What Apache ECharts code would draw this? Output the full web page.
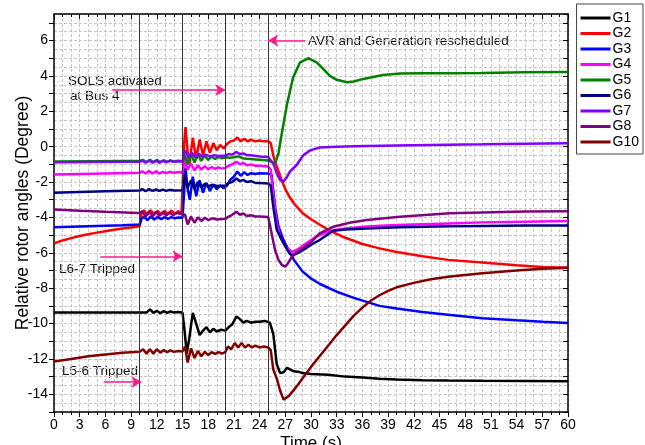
<!DOCTYPE html>
<html>
<head>
<meta charset="utf-8">
<script src="https://cdn.jsdelivr.net/npm/echarts@6/dist/echarts.min.js"></script>
<style>
html, body { margin: 0; padding: 0; background: #fff; }
#chart { width: 645px; height: 445px; }
</style>
</head>
<body>
<div id="chart"></div>
<script>
// rotor angle curves, [time (s), angle (deg)]
const g1 = [[0,-9.38],[5,-9.38],[10,-9.38],[10.8,-9.38],[11.2,-9.2],[11.6,-9.4],[12,-9.28],[12.4,-9.42],[12.8,-9.3],[13.2,-9.4],[13.6,-9.32],[14,-9.38],[14.5,-9.35],[15,-9.38],[15.2,-10.2],[15.5,-11.7],[15.8,-10.8],[16.2,-9.4],[16.6,-10.0],[17,-10.65],[17.4,-10.4],[17.8,-10.2],[18.2,-10.5],[18.6,-10.3],[19,-10.45],[19.5,-10.35],[20,-10.4],[20.4,-10.2],[20.8,-10.05],[21.3,-9.6],[21.7,-9.75],[22.1,-9.95],[22.5,-9.85],[23,-9.95],[23.5,-9.9],[24,-9.9],[24.6,-9.85],[25.2,-9.95],[25.6,-10.6],[26,-12.3],[26.4,-12.8],[26.8,-12.75],[27.2,-12.5],[27.6,-12.6],[28,-12.7],[28.5,-12.72],[29,-12.8],[30,-12.85],[32,-12.9],[34,-13.0],[36,-13.05],[38,-13.12],[40,-13.16],[43,-13.2],[46,-13.22],[50,-13.24],[55,-13.25],[60,-13.26]];
const g2 = [[0,-5.47],[1,-5.3],[2,-5.17],[3,-5.05],[4,-4.95],[5,-4.86],[6,-4.78],[7,-4.7],[8,-4.63],[9,-4.57],[10,-4.5],[10.2,-3.8],[10.5,-3.6],[10.9,-3.85],[11.3,-3.6],[11.7,-3.85],[12.1,-3.62],[12.5,-3.85],[12.9,-3.62],[13.3,-3.82],[13.7,-3.62],[14.1,-3.8],[14.5,-3.65],[14.9,-3.75],[15,-3.7],[15.2,0.2],[15.35,1.1],[15.6,-0.3],[15.8,-1.0],[16.2,0.5],[16.6,-0.7],[17,0.4],[17.4,-0.5],[17.8,0.3],[18.2,-0.35],[18.6,0.2],[19,-0.2],[19.4,0.1],[19.8,-0.1],[20.2,0.15],[20.6,0.3],[21,0.35],[21.4,0.52],[21.8,0.3],[22.2,0.45],[22.6,0.3],[23,0.4],[23.5,0.3],[24,0.35],[24.5,0.3],[25,0.32],[25.3,0.2],[25.6,-0.5],[26,-1.1],[26.5,-1.8],[27,-2.4],[27.5,-2.85],[28,-3.2],[29,-3.75],[30,-4.1],[31,-4.4],[32,-4.7],[34,-5.15],[36,-5.5],[38,-5.75],[40,-5.95],[43,-6.2],[46,-6.4],[50,-6.55],[54,-6.7],[57,-6.8],[60,-6.85]];
const g3 = [[0,-4.56],[2,-4.53],[4,-4.5],[6,-4.47],[8,-4.44],[10,-4.4],[10.2,-4.1],[10.5,-3.95],[10.9,-4.15],[11.3,-3.95],[11.7,-4.12],[12.1,-3.97],[12.5,-4.1],[12.9,-3.98],[13.3,-4.08],[13.7,-3.98],[14.1,-4.05],[14.5,-4.0],[15,-4.02],[15.2,-2.5],[15.35,-1.2],[15.6,-2.4],[15.85,-3.0],[16.2,-1.7],[16.6,-2.8],[17,-1.9],[17.4,-2.6],[17.8,-2.05],[18.2,-2.5],[18.6,-2.15],[19,-2.4],[19.4,-2.2],[19.8,-2.35],[20.2,-2.2],[20.6,-1.85],[21,-1.7],[21.4,-1.4],[21.8,-1.65],[22.2,-1.45],[22.6,-1.6],[23,-1.5],[23.5,-1.55],[24,-1.5],[25,-1.52],[25.4,-1.6],[25.8,-3.4],[26.2,-4.5],[26.8,-5.3],[27.5,-5.95],[28,-6.4],[29,-7.05],[30,-7.45],[31,-7.75],[33,-8.2],[35,-8.55],[38,-9.0],[40,-9.15],[43,-9.35],[46,-9.5],[50,-9.7],[54,-9.82],[57,-9.9],[60,-9.97]];
const g4 = [[0,-1.58],[3,-1.55],[6,-1.52],[10,-1.48],[10.3,-1.4],[10.7,-1.52],[11.1,-1.38],[11.5,-1.52],[11.9,-1.4],[12.3,-1.52],[12.7,-1.42],[13.1,-1.5],[13.5,-1.42],[14,-1.48],[14.5,-1.44],[15,-1.46],[15.3,-0.8],[15.6,-1.3],[16,-0.95],[16.4,-1.35],[16.8,-1.05],[17.2,-1.3],[17.6,-1.1],[18,-1.28],[18.4,-1.15],[18.8,-1.25],[19.2,-1.18],[19.6,-1.24],[20,-1.2],[20.4,-1.08],[20.8,-1.0],[21.3,-0.85],[21.7,-1.0],[22.1,-0.92],[22.5,-1.05],[23,-1.0],[23.5,-1.08],[24,-1.08],[25,-1.12],[25.3,-1.3],[25.6,-2.8],[26,-4.3],[26.4,-5.1],[27,-5.65],[27.8,-5.95],[28.5,-5.8],[29.5,-5.45],[30.5,-5.12],[31.5,-4.9],[32.6,-4.72],[34,-4.62],[36.5,-4.52],[40,-4.43],[46,-4.34],[50,-4.28],[55,-4.24],[60,-4.2]];
const g5 = [[0,-0.84],[5,-0.82],[10,-0.8],[10.4,-0.75],[10.8,-0.88],[11.2,-0.74],[11.6,-0.88],[12,-0.75],[12.4,-0.87],[12.8,-0.77],[13.2,-0.86],[13.6,-0.78],[14,-0.84],[14.5,-0.8],[15,-0.82],[15.3,-0.5],[15.6,-1.0],[16,-0.4],[16.4,-0.9],[16.8,-0.45],[17.2,-0.8],[17.6,-0.5],[18,-0.75],[18.4,-0.55],[18.8,-0.7],[19.2,-0.58],[19.6,-0.66],[20,-0.6],[20.5,-0.62],[21,-0.6],[21.5,-0.55],[22,-0.65],[22.5,-0.68],[23,-0.7],[23.5,-0.72],[24,-0.74],[25,-0.78],[25.4,-0.85],[25.8,-0.96],[26.2,-0.4],[26.5,0.5],[27.2,2.4],[27.9,3.9],[28.7,4.75],[29.7,5.0],[30.7,4.75],[31.5,4.35],[32.2,4.0],[33,3.78],[34.2,3.64],[35,3.68],[36.1,3.83],[38.4,4.05],[40.4,4.13],[43,4.15],[46,4.15],[50,4.17],[55,4.2],[60,4.22]];
const g6 = [[0,-2.6],[3,-2.56],[6,-2.52],[10,-2.48],[10.3,-2.4],[10.7,-2.52],[11.1,-2.4],[11.5,-2.5],[11.9,-2.42],[12.3,-2.5],[12.7,-2.43],[13.1,-2.5],[13.5,-2.44],[14,-2.48],[15,-2.46],[15.3,-1.7],[15.6,-2.3],[16,-1.9],[16.4,-2.4],[16.8,-2.0],[17.2,-2.3],[17.6,-2.1],[18,-2.25],[18.5,-2.15],[19,-2.22],[20,-2.2],[20.4,-2.05],[20.8,-2.0],[21.3,-1.8],[21.7,-1.95],[22.1,-1.88],[22.5,-2.0],[23,-1.95],[23.5,-2.05],[24,-2.05],[25,-2.08],[25.3,-2.2],[25.6,-3.4],[26,-4.7],[26.8,-5.45],[27.5,-6.05],[27.9,-6.15],[28.5,-6.0],[29.1,-5.84],[30.3,-5.46],[31,-5.28],[32.6,-4.75],[34,-4.68],[36.5,-4.63],[40.4,-4.55],[46.2,-4.5],[50,-4.48],[55,-4.46],[60,-4.45]];
const g7 = [[0,-0.88],[5,-0.86],[10,-0.85],[10.3,-0.8],[10.7,-0.9],[11.1,-0.78],[11.5,-0.9],[11.9,-0.8],[12.3,-0.9],[12.7,-0.8],[13.1,-0.88],[13.5,-0.8],[14,-0.86],[14.5,-0.82],[15,-0.84],[15.3,-0.2],[15.7,-0.6],[16.1,-0.35],[16.5,-0.6],[16.9,-0.4],[17.3,-0.58],[17.7,-0.45],[18.2,-0.55],[18.7,-0.48],[19.2,-0.53],[20,-0.5],[20.4,-0.42],[20.8,-0.45],[21.3,-0.3],[21.7,-0.42],[22.1,-0.38],[22.5,-0.48],[23,-0.48],[23.5,-0.52],[24,-0.55],[25,-0.58],[25.6,-0.96],[26,-1.5],[26.4,-1.9],[26.8,-1.95],[27.2,-1.71],[27.5,-1.43],[28.3,-1.05],[29.1,-0.49],[29.9,-0.21],[31,-0.05],[33,0.0],[35,0.02],[40,0.07],[50,0.13],[60,0.2]];
const g8 = [[0,-3.55],[3,-3.62],[6,-3.68],[9,-3.73],[10,-3.75],[10.3,-3.65],[10.7,-3.95],[11.1,-3.65],[11.5,-3.95],[11.9,-3.68],[12.3,-3.92],[12.7,-3.7],[13.1,-3.9],[13.5,-3.72],[13.9,-3.88],[14.3,-3.75],[15,-3.82],[15.3,-3.85],[15.6,-4.4],[16,-3.95],[16.4,-4.3],[16.8,-4.0],[17.2,-4.2],[17.6,-4.02],[18,-4.15],[18.5,-4.05],[19,-4.12],[20,-4.08],[20.4,-3.95],[20.8,-3.85],[21.3,-3.68],[21.7,-3.85],[22.1,-3.78],[22.5,-3.92],[23,-3.88],[23.5,-3.95],[24,-3.95],[25,-3.98],[25.4,-4.9],[25.8,-5.84],[26.2,-6.4],[26.6,-6.69],[27,-6.78],[27.3,-6.6],[27.9,-6.12],[28.7,-5.84],[29.9,-5.46],[31,-4.9],[32.6,-4.53],[34.5,-4.3],[36.5,-4.15],[40.4,-3.96],[46.2,-3.77],[50,-3.72],[55,-3.67],[60,-3.65]];
const g10 = [[0,-12.15],[2,-12.0],[4,-11.85],[6,-11.75],[8,-11.65],[10,-11.6],[10.4,-11.45],[10.8,-11.7],[11.2,-11.45],[11.6,-11.7],[12,-11.45],[12.4,-11.65],[12.8,-11.5],[13.2,-11.62],[13.6,-11.52],[14,-11.6],[14.5,-11.55],[15,-11.58],[15.3,-11.3],[15.6,-12.2],[16,-11.4],[16.4,-11.95],[16.8,-11.55],[17.2,-11.85],[17.6,-11.6],[18,-11.78],[18.4,-11.62],[18.8,-11.72],[19.2,-11.62],[19.6,-11.7],[20,-11.62],[20.3,-11.3],[20.7,-11.45],[21.1,-11.1],[21.5,-11.35],[21.9,-11.1],[22.3,-11.35],[22.7,-11.2],[23.1,-11.35],[23.5,-11.25],[24,-11.35],[24.5,-11.3],[25,-11.35],[25.3,-11.5],[25.6,-12.6],[26,-13.1],[26.4,-13.8],[26.8,-14.3],[27,-14.4],[27.4,-14.1],[28,-13.75],[28.5,-13.45],[29,-13.1],[30,-12.45],[31,-11.85],[32,-11.25],[33,-10.65],[34,-10.1],[35,-9.55],[36,-9.1],[37,-8.7],[38,-8.4],[39,-8.15],[40,-7.95],[42,-7.7],[44,-7.5],[46,-7.35],[50,-7.15],[54,-7.0],[57,-6.9],[60,-6.85]];

const names = ['G1', 'G2', 'G3', 'G4', 'G5', 'G6', 'G7', 'G8', 'G10'];
const curves = [g1, g2, g3, g4, g5, g6, g7, g8, g10];
const colors = ['#000000', '#ff0000', '#0000ff', '#ff00ff', '#008000', '#000080', '#8000ff', '#800080', '#800000'];

// event times (vertical lines) and arrows of the annotations
const eventTimes = [10, 15, 20, 25];
const arrows = [
	[[6.8, 3.2], [20, 3.2]],
	[[29.3, 6.0], [25, 6.0]],
	[[5.4, -6.2], [15, -6.2]],
	[[5.8, -13.3], [10.2, -13.3]]
];

const myChart = echarts.init(document.getElementById('chart'));
const font = "'Liberation Sans', Arial, sans-serif";
const dotted = {color: '#c4c4c4', type: [3, 2], width: 1};

const series = curves.map((d, i) => ({
	name: names[i],
	type: 'line',
	data: d,
	showSymbol: false,
	symbol: 'none',
	lineStyle: {width: 2.5, color: colors[i]},
	itemStyle: {color: colors[i]},
	silent: true
}));

series.push({
	name: 'events',
	type: 'line',
	data: [],
	markLine: {
		silent: true,
		symbol: 'none',
		label: {show: false},
		lineStyle: {color: '#333', width: 1, type: 'solid'},
		data: eventTimes.map(t => ({xAxis: t}))
	}
});
series.push({
	name: 'arrows',
	type: 'line',
	data: [],
	markLine: {
		silent: true,
		symbol: ['none', 'arrow'],
		symbolSize: [9, 10],
		label: {show: false},
		lineStyle: {color: '#ff1a8c', width: 1.5, type: 'solid'},
		data: arrows.map(a => [{coord: a[0]}, {coord: a[1]}])
	}
});

const textStyle = {fill: '#111', font: '13.5px ' + font};
const option = {
	backgroundColor: '#fff',
	animation: false,
	textStyle: {fontFamily: font},
	grid: {left: 54, right: 77, top: 14, bottom: 33, outerBoundsMode: 'none', containLabel: false},
	legend: {
		data: names,
		orient: 'vertical',
		right: 2,
		top: 4,
		icon: 'rect',
		itemWidth: 30,
		itemHeight: 3,
		itemGap: 1.5,
		padding: [7, 4, 5, 4],
		borderColor: '#444',
		borderWidth: 1,
		textStyle: {fontSize: 14, color: '#000', fontFamily: font, lineHeight: 14, padding: [0, 0, 0, -3]}
	},
	xAxis: [{
		type: 'value',
		min: 0,
		max: 60,
		interval: 3,
		name: 'Time (s)',
		nameLocation: 'middle',
		nameGap: 23,
		nameMoveOverlap: false,
		nameTextStyle: {fontSize: 17, color: '#000', verticalAlign: 'top'},
		axisLine: {onZero: false, lineStyle: {color: '#000', width: 1.5}},
		axisTick: {length: 5, lineStyle: {color: '#000'}},
		minorTick: {show: true, splitNumber: 3, length: 3, lineStyle: {color: '#000'}},
		axisLabel: {fontSize: 14, color: '#000', margin: 6},
		splitLine: {show: true, lineStyle: dotted},
		minorSplitLine: {show: true, lineStyle: dotted}
	}, {
		type: 'value',
		position: 'top',
		min: 0,
		max: 60,
		interval: 3,
		axisLine: {onZero: false, lineStyle: {color: '#000', width: 1.5}},
		axisTick: {inside: true, length: 5, lineStyle: {color: '#000'}},
		minorTick: {show: true, splitNumber: 3, length: 3, lineStyle: {color: '#000'}},
		axisLabel: {show: false},
		splitLine: {show: false}
	}],
	yAxis: [{
		type: 'value',
		min: -15,
		max: 7.5,
		interval: 1,
		name: 'Relative rotor angles (Degree)',
		nameLocation: 'middle',
		nameGap: 22,
		nameMoveOverlap: false,
		nameTextStyle: {fontSize: 17.5, color: '#000'},
		axisLine: {show: true, onZero: false, lineStyle: {color: '#000', width: 1.5}},
		axisTick: {length: 5, lineStyle: {color: '#000'}},
		minorTick: {show: false, splitNumber: 2},
		axisLabel: {
			fontSize: 14,
			color: '#000',
			margin: 6,
			showMaxLabel: false,
			formatter: v => (v % 2 === 0 ? String(v) : '')
		},
		splitLine: {show: true, lineStyle: dotted},
		minorSplitLine: {show: true, lineStyle: dotted}
	}, {
		type: 'value',
		position: 'right',
		min: -15,
		max: 7.5,
		interval: 1,
		axisLine: {show: true, onZero: false, lineStyle: {color: '#000', width: 1.5}},
		axisTick: {inside: true, length: 5, lineStyle: {color: '#000'}},
		axisLabel: {show: false},
		splitLine: {show: false}
	}],
	graphic: [
		{type: 'text', left: 68, top: 74, style: Object.assign({text: 'SOLS activated'}, textStyle)},
		{type: 'text', left: 70, top: 89, style: Object.assign({text: 'at Bus 4'}, textStyle)},
		{type: 'text', left: 308, top: 34, style: Object.assign({text: 'AVR and Generation rescheduled'}, textStyle)},
		{type: 'text', left: 59, top: 262, style: Object.assign({text: 'L6-7 Tripped'}, textStyle)},
		{type: 'text', left: 62, top: 364, style: Object.assign({text: 'L5-6 Tripped'}, textStyle)}
	],
	series: series
};

myChart.setOption(option);
</script>
</body>
</html>
